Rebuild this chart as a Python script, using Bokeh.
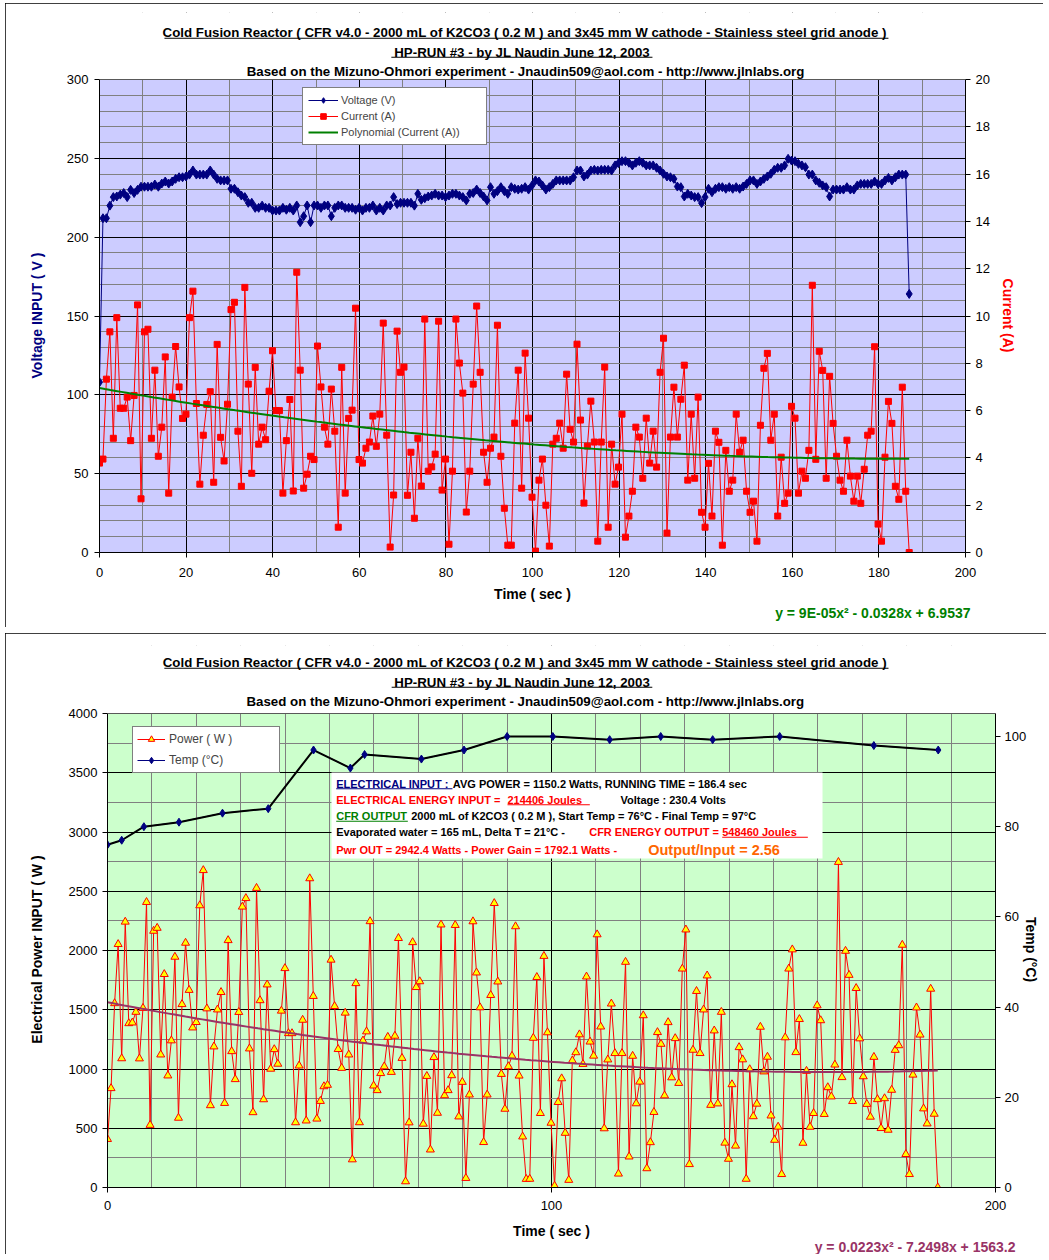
import numpy as np
from bokeh.plotting import figure
from bokeh.models import (ColumnDataSource, Range1d, LinearAxis, SingleIntervalTicker,
                          Label, BoxAnnotation, Legend, LegendItem, Title)
from bokeh.embed import file_html
from bokeh.resources import INLINE

FONT = "Liberation Sans"
NBSP = "\u00a0"

# ------------------------------------------------------------------ data
RUN_TIME = 187.0  # sec, time of last sample

voltage = [
    108, 212, 212, 220, 225.4, 225.8, 227, 228, 225.4, 230,
    228, 230, 232, 232, 232, 232, 233.4, 232, 234, 235.3,
    234, 235.3, 237, 238, 238, 238.5, 239.7, 242.3, 239.7, 239.7,
    239.7, 239.7, 242.3, 239.7, 237, 236, 236, 236, 230.7, 230.7,
    228.5, 226.4, 225.4, 221.8, 221.8, 218.6, 218.6, 220, 218.6, 218.6,
    216.9, 216.9, 216.9, 218.6, 217.4, 218.6, 216.9, 220.1, 209.5, 213.3,
    220.1, 209.5, 220.1, 220.1, 218.6, 220.1, 220.1, 213.3, 218.6, 220.1,
    220.1, 218.6, 218.6, 218.6, 217.4, 218.6, 216.9, 218.6, 218.6, 220.1,
    216.9, 218.6, 216.9, 220.1, 220.1, 225.4, 221,
    221.8, 221.8, 221.8, 221.8, 220, 227.5, 223.7, 224.7, 225.8, 226.4,
    227.5, 226.4, 226.4, 225.4, 226.4, 227.5, 227.5, 226.4, 225.4, 223.3,
    227.5, 228, 230.2, 228, 225.8, 223.3, 231.7, 227.5, 229.2, 231.7,
    229.2, 227.5, 231.7, 230.7, 230.2, 230.7, 231.7, 230.2, 232.8, 236,
    235.3, 232.8, 230.2, 231.7, 233.8, 236, 236, 236, 236, 236,
    238, 242.3, 242.3, 238.5, 239.7, 242.3, 242.7, 242.3, 242.7, 242.7,
    242.7, 242.3, 245.5, 247, 248.2, 248.2, 247.2, 245.5, 247.2, 248.2,
    247.2, 245.5, 245.5, 245.5, 244, 242.3, 240.2, 238.5, 238, 237,
    232.1, 231.7, 225.8, 227.5, 226.4, 225.4, 225.4, 221.6, 225.4, 230.7,
    228.5, 230.7, 231.7, 231.7, 230.7, 231.7, 230.7, 231.7, 230.7, 232.1,
    233.8, 236, 236, 233.8, 235.3, 237, 238.5, 240.2, 242.7,
    244, 244, 245.5, 249.7, 248.6, 248.2, 246.5, 245.5, 244.4, 239.7,
    239.7, 236, 234.5, 232.8, 231.7, 225.8, 230.2, 230.2, 230.2, 230.2,
    231.7, 230.2, 230.2, 232.8, 233.8, 233.8, 233.8, 233.8, 235.3, 233.8,
    233.8, 236, 237.6, 236, 238, 239.7, 239.7, 239.7, 164,
]

current = [
    3.78, 3.95, 7.33, 9.33, 4.83, 9.93, 6.10, 6.10, 6.57, 4.73,
    6.64, 10.47, 2.27, 9.33, 9.44, 4.83, 7.71, 4.07, 5.30, 8.27,
    2.51, 6.57, 8.71, 7.00, 5.67, 5.85, 9.93, 11.05, 6.30, 2.89,
    4.96, 6.26, 6.80, 2.97, 8.80, 4.87, 3.87, 6.27, 10.27, 10.58,
    5.13, 2.80, 11.21, 7.12, 3.35, 7.83, 4.58, 5.30, 4.77, 6.82,
    8.53, 6.00, 6.00, 2.51, 4.73, 6.47, 2.60, 11.85, 7.71, 2.72,
    3.31, 4.07, 3.93, 8.73, 7.00, 5.30, 4.58, 6.91, 5.13, 1.07,
    7.83, 2.51, 5.67, 6.02, 10.33, 3.93, 3.78, 4.41, 4.67, 5.77,
    4.49, 5.85, 9.70, 4.96, 0.23, 2.43, 9.36, 7.62, 7.84, 2.42,
    4.24, 1.45, 4.83, 2.81, 9.87, 3.44, 3.62, 4.16, 9.78, 2.64,
    3.95, 0.35, 3.44, 9.87, 8.01, 6.74, 1.71, 3.44, 7.12, 10.42,
    7.62, 4.24, 2.97, 4.41, 4.88, 9.61, 4.07, 1.87, 0.31, 0.31,
    5.47, 7.71, 2.72, 8.43, 5.68, 2.34, 0.06, 3.06, 3.95, 2.00,
    0.27, 4.58, 4.83, 5.47, 4.41, 7.54, 5.21, 4.67, 8.81, 5.60,
    2.09, 4.50, 6.40, 4.67, 0.48, 4.67, 7.84, 1.07, 4.58, 2.89,
    3.61, 5.85, 0.65, 1.54, 2.59, 5.30, 4.88, 3.14, 5.68, 3.78,
    5.13, 3.61, 7.62, 9.06, 0.82, 4.88, 6.99, 4.88, 6.48, 7.92,
    3.06, 5.85, 3.14, 6.57,
    1.70, 1.07, 3.77, 1.54, 5.13, 4.66, 0.31, 4.32, 2.59, 3.06, 5.85,
    4.24, 4.75, 2.59, 1.70, 2.17, 0.48, 5.38, 7.79, 8.42, 4.75,
    5.85, 1.54, 4.03, 2.08, 2.51, 6.18, 5.68, 2.51, 3.44, 3.14,
    4.32, 11.30, 3.94, 8.51, 7.70, 3.14, 7.45, 5.46, 4.07, 3.06,
    2.59, 4.75, 3.23, 2.17, 3.23, 2.08, 3.52, 4.96, 5.13, 8.70,
    1.20, 0.48, 4.03, 6.39, 5.46, 2.80, 2.25, 6.99, 2.59, 0.00,
]

power = [
    408, 837, 1554, 2053, 1089, 2242, 1385, 1391, 1481, 1088,
    1514, 2408, 527, 2165, 2190, 1121, 1800, 944, 1240, 1946,
    587, 1546, 2064, 1666, 1349, 1395, 2380, 2677, 1510, 693,
    1189, 1501, 1648, 712, 2086, 1149, 913, 1480, 2369, 2441,
    1172, 634, 2527, 1579, 743, 1712, 1001, 1166, 1043, 1491,
    1850, 1301, 1301, 549, 1028, 1414, 564, 2608, 1615, 580,
    729, 853, 865, 1921, 1530, 1167, 1008, 1474, 1121, 236,
    1723, 549, 1239, 1316, 2246, 859, 820, 964, 1021, 1270,
    974, 1279, 2104, 1092, 51, 548, 2069, 1690, 1739, 537,
    940, 319, 1099, 629, 2218, 777, 820, 946, 2214, 598,
    890, 79, 783, 2245, 1813, 1519, 382, 783, 1623, 2399,
    1737, 957, 663, 1022, 1110, 2203, 943, 429, 71, 72,
    1262, 1775, 627, 1953, 1308, 545, 14, 720, 920, 460,
    63, 1071, 1140, 1291, 1041, 1779, 1230, 1111, 2135, 1357,
    498, 1079, 1551, 1133, 116, 1133, 1903, 260, 1110, 709,
    892, 1452, 161, 381, 636, 1310, 1211, 776, 1394, 928,
    1259, 881, 1846, 2176, 196, 1161, 1657, 1133, 1501, 1788,
    696, 1324, 708, 1481,
    377, 241, 870, 352, 1183, 1080, 72, 997, 600, 706, 1355,
    978, 1102, 606, 401, 512, 112, 1266, 1846, 2008, 1141,
    1420, 376, 983, 511, 627, 1536, 1410, 619, 845, 767,
    1036, 2746, 930, 1996, 1793, 728, 1682, 1257, 937, 704,
    596, 1101, 744, 500, 752, 486, 823, 1160, 1199, 2047,
    281, 112, 951, 1518, 1289, 666, 539, 1676, 621, 0,
]

temp_time = [0, 3.2, 8.2, 16.1, 25.9, 36.2, 46.4, 54.7, 57.9, 70.7,
             80.3, 90.0, 100.3, 113.1, 124.6, 136.3, 151.4, 172.6, 187.1]
temp_c = [76, 77, 80, 81, 83, 84, 97, 93, 96, 95,
          97, 100, 100, 99.3, 100, 99.3, 100, 98, 97]

current_fit = (9e-05, -0.0328, 6.9537)   # trendline equations shown on the chart
power_fit = (0.0223, -7.2498, 1563.2)

title_lines = [
    "Cold Fusion Reactor ( CFR v4.0 - 2000 mL of K2CO3 ( 0.2 M ) and 3x45 mm W cathode - Stainless steel grid anode  )",
    "HP-RUN #3 - by JL Naudin June 12, 2003",
    "Based on the Mizuno-Ohmori experiment - Jnaudin509@aol.com - http://www.jlnlabs.org",
]

V_MAX, I_MAX, P_MAX, T_MAX = 300, 20, 4000, 105.1

t_v = np.linspace(0, RUN_TIME, len(voltage))
t_i = np.linspace(0, RUN_TIME, len(current))
t_p = np.linspace(0, RUN_TIME, len(power))
t_fit = np.linspace(0, RUN_TIME, 150)
i_fit = np.polyval(current_fit, t_fit)
p_fit = np.polyval(power_fit, t_fit)


def style_axis(ax, label_color="black"):
    ax.axis_line_color = "black"
    ax.major_tick_line_color = "black"
    ax.major_tick_in = 0
    ax.major_tick_out = 5
    ax.minor_tick_line_color = None
    ax.major_label_text_font = FONT
    ax.major_label_text_font_size = "13px"
    ax.major_label_text_color = "black"
    ax.major_label_standoff = 5
    ax.axis_label_text_font = FONT
    ax.axis_label_text_font_size = "14px"
    ax.axis_label_text_font_style = "bold"
    ax.axis_label_text_color = label_color


def add_titles(p, xcs, ys, ul, h):
    for txt, xc, y in zip(title_lines, xcs, ys):
        p.add_layout(Label(x=xc, y=y, text=txt, text_align="center", text_baseline="middle",
                           text_font=FONT, text_font_size="13.3px",
                           text_font_style="bold", text_color="black"))
    for (l, r, y) in ul:
        p.add_layout(BoxAnnotation(left=l, right=r, bottom=y - h, top=y + h,
                                   fill_color="black", fill_alpha=1, line_color=None))


def plot_area(p, top_val, color):
    # coloured plot area below the title zone, white above it, black border
    p.add_layout(BoxAnnotation(top=top_val, fill_color=color, fill_alpha=1,
                               line_color=None, level="image"))
    p.add_layout(BoxAnnotation(bottom=top_val, fill_color="white", fill_alpha=1,
                               line_color=None))
    p.add_layout(BoxAnnotation(bottom=0, top=top_val, fill_alpha=0,
                               line_color="black", line_width=1))


# ------------------------------------------------------------------ top chart
T_H, T_TOP, T_BOT = 624, 9, 75
t_frame_h = T_H - T_TOP - T_BOT
v_end = V_MAX * t_frame_h / 473.0
top = figure(width=1038, height=T_H, x_range=Range1d(0, 200), y_range=Range1d(0, v_end),
             output_backend="svg", toolbar_location=None, margin=(3, 6, 3, 5),
             min_border_left=94, min_border_right=78, min_border_top=T_TOP,
             min_border_bottom=T_BOT)
top.extra_y_ranges = {"amps": Range1d(0, v_end / 15.0)}
top.background_fill_color = "white"
top.border_fill_color = "white"
top.outline_line_color = None
top.styles = {"outline": "1px solid black", "outline-offset": "-1px"}

xt = SingleIntervalTicker(interval=20, num_minor_ticks=2)
yt = SingleIntervalTicker(interval=50, num_minor_ticks=5)
top.xaxis[0].ticker = xt
top.yaxis[0].ticker = yt
top.xgrid[0].ticker = xt
top.ygrid[0].ticker = yt
for g in (top.xgrid[0], top.ygrid[0]):
    g.grid_line_color = "black"
    g.minor_grid_line_color = "#808080"

style_axis(top.xaxis[0])
style_axis(top.yaxis[0], "#000080")
top.yaxis[0].bounds = (0, V_MAX)
top.xaxis[0].axis_label = "Time ( sec )"
top.xaxis[0].major_label_standoff = 10
top.xaxis[0].axis_label_standoff = 6
top.yaxis[0].axis_label = "Voltage INPUT ( V )" + NBSP * 17
top.yaxis[0].axis_label_standoff = 19
top.yaxis[0].major_label_standoff = 6

ra = LinearAxis(y_range_name="amps", ticker=SingleIntervalTicker(interval=2),
                bounds=(0, I_MAX))
style_axis(ra, "red")
ra.axis_label = NBSP * 17 + "Current (A)"
ra.axis_label_standoff = 7
top.add_layout(ra, "right")

plot_area(top, V_MAX, "#CCCCFF")

src_top = ColumnDataSource(dict(tv=t_v, v=voltage))
src_cur = ColumnDataSource(dict(ti=t_i, i=current))
cl = top.line("ti", "i", source=src_cur, color="red", line_width=1, y_range_name="amps")
cm = top.scatter("ti", "i", source=src_cur, marker="square", size=6, color="red",
                 y_range_name="amps")
tr = top.line(t_fit, i_fit, color="#008000", line_width=2, y_range_name="amps")
vl = top.line("tv", "v", source=src_top, color="#000080", line_width=1)
vm = top.scatter("tv", "v", source=src_top, marker="diamond", size=9, color="#000080")

leg_top = Legend(items=[LegendItem(label="Voltage (V)", renderers=[vl, vm]),
                        LegendItem(label="Current (A)", renderers=[cl, cm]),
                        LegendItem(label="Polynomial (Current (A))", renderers=[tr])],
                 location=(203, 407))
leg_top.border_line_color = "black"
leg_top.background_fill_color = "white"
leg_top.background_fill_alpha = 1
leg_top.label_text_font = FONT
leg_top.label_text_font_size = "11px"
leg_top.glyph_width = 30
leg_top.glyph_height = 14
leg_top.label_height = 14
leg_top.label_width = 140
leg_top.label_standoff = 3
leg_top.spacing = 2
leg_top.padding = 5
leg_top.margin = 0
top.add_layout(leg_top)

add_titles(top, [98.6, 97.6, 98.4], [329.5, 317.2, 305.2],
           [(15.0, 182.2, 326.1), (67.4, 127.7, 314.1)], 0.32)

top.add_layout(Title(text="y = 9E-05x² - 0.0328x + 6.9537", align="right", offset=-5,
                     standoff=0, vertical_align="top", text_font=FONT,
                     text_font_size="14px", text_font_style="bold",
                     text_color="#008000"), "below")

# ------------------------------------------------------------------ bottom chart
B_H, B_TOP, B_BOT = 621, 12, 67
b_frame_h = B_H - B_TOP - B_BOT
p_end = P_MAX * b_frame_h / 474.0
bot = figure(width=1041, height=B_H, x_range=Range1d(0, 200), y_range=Range1d(0, p_end),
             output_backend="svg", toolbar_location=None, margin=(6, 3, 3, 5),
             min_border_left=102, min_border_right=51, min_border_top=B_TOP,
             min_border_bottom=B_BOT)
bot.extra_y_ranges = {"temp": Range1d(0, p_end * T_MAX / P_MAX)}
bot.background_fill_color = "white"
bot.border_fill_color = "white"
bot.outline_line_color = None
bot.styles = {"outline": "1px solid black", "outline-offset": "-1px"}

bxt = SingleIntervalTicker(interval=100, num_minor_ticks=10)
byt = SingleIntervalTicker(interval=500, num_minor_ticks=2)
bot.xaxis[0].ticker = bxt
bot.yaxis[0].ticker = byt
bot.xgrid[0].ticker = bxt
bot.ygrid[0].ticker = byt
for g in (bot.xgrid[0], bot.ygrid[0]):
    g.grid_line_color = "black"
    g.minor_grid_line_color = "#808080"

style_axis(bot.xaxis[0])
style_axis(bot.yaxis[0])
bot.yaxis[0].bounds = (0, P_MAX)
bot.xaxis[0].axis_label = "Time ( sec )"
bot.xaxis[0].major_label_standoff = 8
bot.xaxis[0].axis_label_standoff = 10
bot.yaxis[0].axis_label = "Electrical Power INPUT ( W )" + NBSP * 17
bot.yaxis[0].axis_label_standoff = 21

rb = LinearAxis(y_range_name="temp", ticker=SingleIntervalTicker(interval=20),
                bounds=(0, T_MAX))
style_axis(rb)
rb.major_label_standoff = 4
rb.axis_label = NBSP * 17 + "Temp (°C)"
rb.axis_label_standoff = -6
bot.add_layout(rb, "right")

plot_area(bot, P_MAX, "#CCFFCC")

src_pow = ColumnDataSource(dict(tp=t_p, p=power))
src_tmp = ColumnDataSource(dict(tt=temp_time, T=temp_c))
pl = bot.line("tp", "p", source=src_pow, color="red", line_width=1)
pm = bot.scatter("tp", "p", source=src_pow, marker="triangle", size=8,
                 fill_color="#FFFF00", line_color="red", line_width=1)
bot.line(t_fit, p_fit, color="#993366", line_width=2)
tl_nav = bot.line("tt", "T", source=src_tmp, color="#000080", line_width=1,
                  y_range_name="temp")
bot.line("tt", "T", source=src_tmp, color="black", line_width=2, y_range_name="temp")
tm = bot.scatter("tt", "T", source=src_tmp, marker="diamond", size=8, color="#000080",
                 y_range_name="temp")

leg_bot = Legend(items=[LegendItem(label="Power ( W )", renderers=[pl, pm]),
                        LegendItem(label="Temp (°C)", renderers=[tl_nav, tm])],
                 location=(25, 414))
leg_bot.border_line_color = "black"
leg_bot.background_fill_color = "white"
leg_bot.background_fill_alpha = 1
leg_bot.label_text_font = FONT
leg_bot.label_text_font_size = "12px"
leg_bot.glyph_width = 28
leg_bot.glyph_height = 16
leg_bot.label_height = 16
leg_bot.label_width = 106
leg_bot.label_standoff = 4
leg_bot.spacing = 5
leg_bot.padding = 4
leg_bot.margin = 0
bot.add_layout(leg_bot)

add_titles(bot, [94.4, 93.4, 94.1], [4428, 4264, 4104],
           [(12.8, 175.9, 4382), (64.0, 122.7, 4222)], 4.2)

bot.add_layout(Title(text="y = 0.0223x² - 7.2498x + 1563.2", align="right", offset=-20,
                     standoff=-5, vertical_align="top", text_font=FONT,
                     text_font_size="14px", text_font_style="bold",
                     text_color="#993366"), "below")

# info box
bot.add_layout(BoxAnnotation(left=50.45, right=161.04, bottom=2776, top=3502,
                             fill_color="white", fill_alpha=1, line_color=None))
info = [
    (51.51, 3401, "ELECTRICAL INPUT :", "#000080", "11px"),
    (77.77, 3401, "AVG POWER = 1150.2 Watts, RUNNING TIME = 186.4 sec", "black", "11px"),
    (51.51, 3272, "ELECTRICAL  ENERGY INPUT = ", "red", "11px"),
    (90.09, 3272, "214406 Joules", "red", "11px"),
    (115.54, 3272, "Voltage : 230.4 Volts", "black", "11px"),
    (51.51, 3133, "CFR OUTPUT", "#008000", "11px"),
    (68.40, 3133, "2000 mL of K2CO3 ( 0.2 M ), Start Temp = 76°C - Final Temp = 97°C", "black", "11px"),
    (51.51, 2998, "Evaporated water = 165 mL,  Delta T = 21°C - ", "black", "11px"),
    (108.49, 2998, "CFR ENERGY OUTPUT = ", "red", "11px"),
    (138.45, 2998, "548460 Joules ", "red", "11px"),
    (51.51, 2850, "Pwr OUT = 2942.4 Watts - Power Gain = 1792.1 Watts - ", "red", "11px"),
    (121.78, 2850, "Output/Input = 2.56", "#FF6600", "14.5px"),
]
for x, y, txt, col, fs in info:
    bot.add_layout(Label(x=x, y=y, text=txt, text_align="left", text_baseline="middle",
                         text_font=FONT, text_font_size=fs, text_font_style="bold",
                         text_color=col))
for l, r, y, col in [(51.51, 77.7, 3365, "#000080"), (90.09, 108.63, 3230, "red"),
                     (51.51, 67.64, 3091, "#008000"), (138.45, 157.73, 2956, "red")]:
    bot.add_layout(BoxAnnotation(left=l, right=r, bottom=y - 4.2, top=y + 4.2,
                                 fill_color=col, fill_alpha=1, line_color=None))

open("out.html", "w").write(file_html([top, bot], INLINE))
